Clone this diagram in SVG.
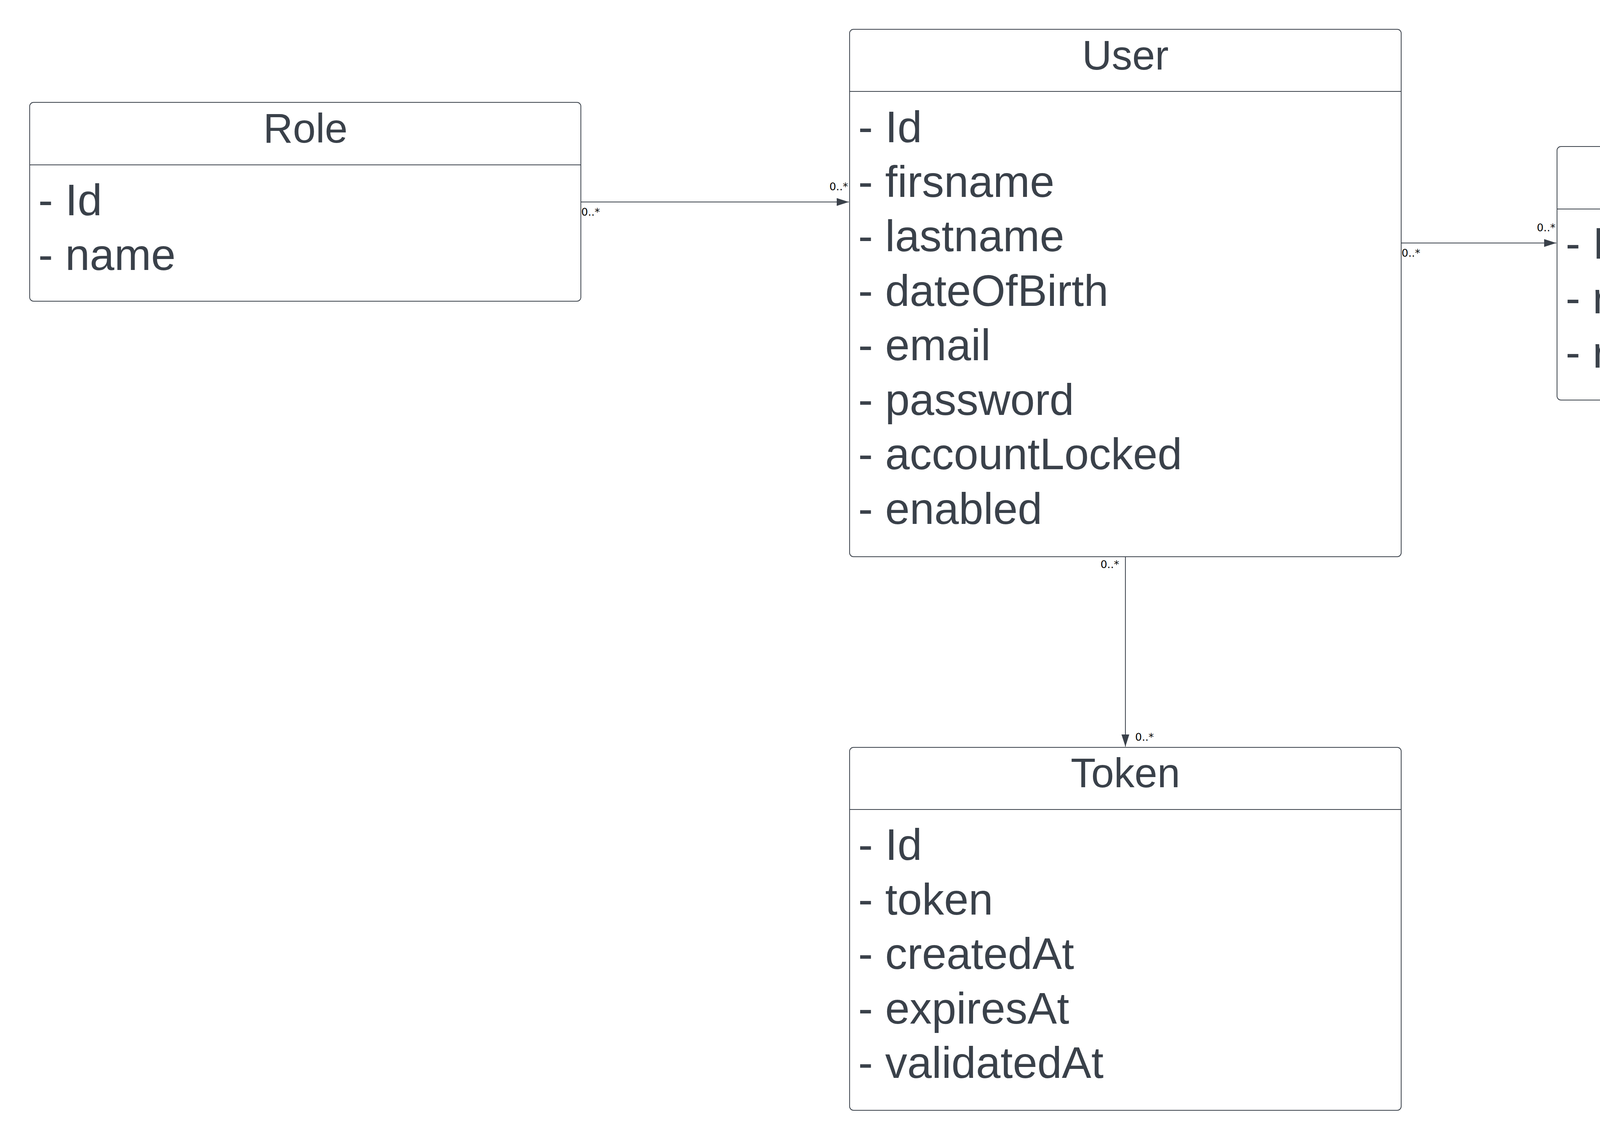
<svg xmlns="http://www.w3.org/2000/svg" width="7451" height="2918" viewBox="0 0 7451 2918">
<style>
.box{fill:#ffffff;stroke:#3a414a;stroke-width:2}
.div{stroke:#3a414a;stroke-width:2}
.title{font-family:"Liberation Sans",Arial,sans-serif;font-size:105px;fill:#3a414a;text-anchor:middle}
.attr{font-family:"Liberation Sans",Arial,sans-serif;font-size:113px;fill:#3a414a}
.conn{stroke:#3a414a;stroke-width:2;fill:none}
.lbl{font-family:"DejaVu Sans",sans-serif;font-size:27px;fill:#000000}
.end{text-anchor:end}
</style>
<defs>
<marker id="arrow" markerUnits="userSpaceOnUse" markerWidth="32" markerHeight="22" viewBox="0 0 32 22" refX="31" refY="11" orient="auto">
<path d="M0,1 L31,11 L0,21 Z" fill="#3a414a"/>
</marker>
</defs>
<rect width="7451" height="2918" fill="#ffffff"/>

<g id="connectors">
<line class="conn" x1="1487" y1="517" x2="2173" y2="517" marker-end="url(#arrow)"/>
<text class="lbl" x="1488" y="552">0..*</text>
<text class="lbl end" x="2171" y="487">0..*</text>

<line class="conn" x1="3587" y1="622" x2="3984" y2="622" marker-end="url(#arrow)"/>
<text class="lbl" x="3588" y="657">0..*</text>
<text class="lbl end" x="3982" y="592">0..*</text>

<line class="conn" x1="5399" y1="700" x2="5960" y2="700" marker-end="url(#arrow)"/>
<text class="lbl" x="5401" y="735">0..*</text>
<text class="lbl end" x="5959" y="670">0..*</text>

<line class="conn" x1="2881" y1="1425" x2="2881" y2="1911" marker-end="url(#arrow)"/>
<text class="lbl end" x="2865" y="1454">0..*</text>
<text class="lbl" x="2906" y="1896">0..*</text>

<line class="conn" x1="6668" y1="1461" x2="6668" y2="1911" marker-end="url(#arrow)"/>
<text class="lbl end" x="6652" y="1491">0..*</text>
<text class="lbl" x="6693" y="1895">0..*</text>
</g>

<g id="role">
<rect class="box" x="76" y="262" width="1411" height="509" rx="10"/>
<line class="div" x1="76" y1="422" x2="1487" y2="422"/>
<text class="title" x="782" y="365">Role</text>
<text class="attr" x="98" y="551">- Id</text>
<text class="attr" x="98" y="690.5">- name</text>
</g>

<g id="user">
<rect class="box" x="2175" y="75" width="1412" height="1350" rx="10"/>
<line class="div" x1="2175" y1="234" x2="3587" y2="234"/>
<text class="title" x="2881" y="178">User</text>
<text class="attr" x="2197" y="364">- Id</text>
<text class="attr" x="2197" y="503.5">- firsname</text>
<text class="attr" x="2197" y="643">- lastname</text>
<text class="attr" x="2197" y="782.5">- dateOfBirth</text>
<text class="attr" x="2197" y="922">- email</text>
<text class="attr" x="2197" y="1061.5">- password</text>
<text class="attr" x="2197" y="1201">- accountLocked</text>
<text class="attr" x="2197" y="1340.5">- enabled</text>
</g>

<g id="booktransactionhistory">
<rect class="box" x="3986" y="375" width="1413" height="649" rx="10"/>
<line class="div" x1="3986" y1="535" x2="5399" y2="535"/>
<text class="title" x="4692" y="477">BookTransactionHistory</text>
<text class="attr" x="4008" y="662">- Id</text>
<text class="attr" x="4008" y="801.5">- returned</text>
<text class="attr" x="4008" y="941">- returnApproved</text>
</g>

<g id="book">
<rect class="box" x="5962" y="112" width="1412" height="1349" rx="10"/>
<line class="div" x1="5962" y1="272" x2="7374" y2="272"/>
<text class="title" x="6668" y="215">Book</text>
<text class="attr" x="5984" y="399">- Id</text>
<text class="attr" x="5984" y="538.5">- title</text>
<text class="attr" x="5984" y="678">- authoreName</text>
<text class="attr" x="5984" y="817.5">- isbn</text>
<text class="attr" x="5984" y="957">- synopsis</text>
<text class="attr" x="5984" y="1096.5">- bookCover</text>
<text class="attr" x="5984" y="1236">- archived</text>
<text class="attr" x="5984" y="1375.5">- shareable</text>
</g>

<g id="token">
<rect class="box" x="2175" y="1913" width="1412" height="929" rx="10"/>
<line class="div" x1="2175" y1="2072" x2="3587" y2="2072"/>
<text class="title" x="2881" y="2015">Token</text>
<text class="attr" x="2197" y="2201">- Id</text>
<text class="attr" x="2197" y="2340.5">- token</text>
<text class="attr" x="2197" y="2480">- createdAt</text>
<text class="attr" x="2197" y="2619.5">- expiresAt</text>
<text class="attr" x="2197" y="2759">- validatedAt</text>
</g>

<g id="feeback">
<rect class="box" x="5962" y="1913" width="1412" height="649" rx="10"/>
<line class="div" x1="5962" y1="2072" x2="7374" y2="2072"/>
<text class="title" x="6668" y="2015">Feeback</text>
<text class="attr" x="5984" y="2200">- Id</text>
<text class="attr" x="5984" y="2339.5">- note</text>
<text class="attr" x="5984" y="2479">- comment</text>
</g>
</svg>
